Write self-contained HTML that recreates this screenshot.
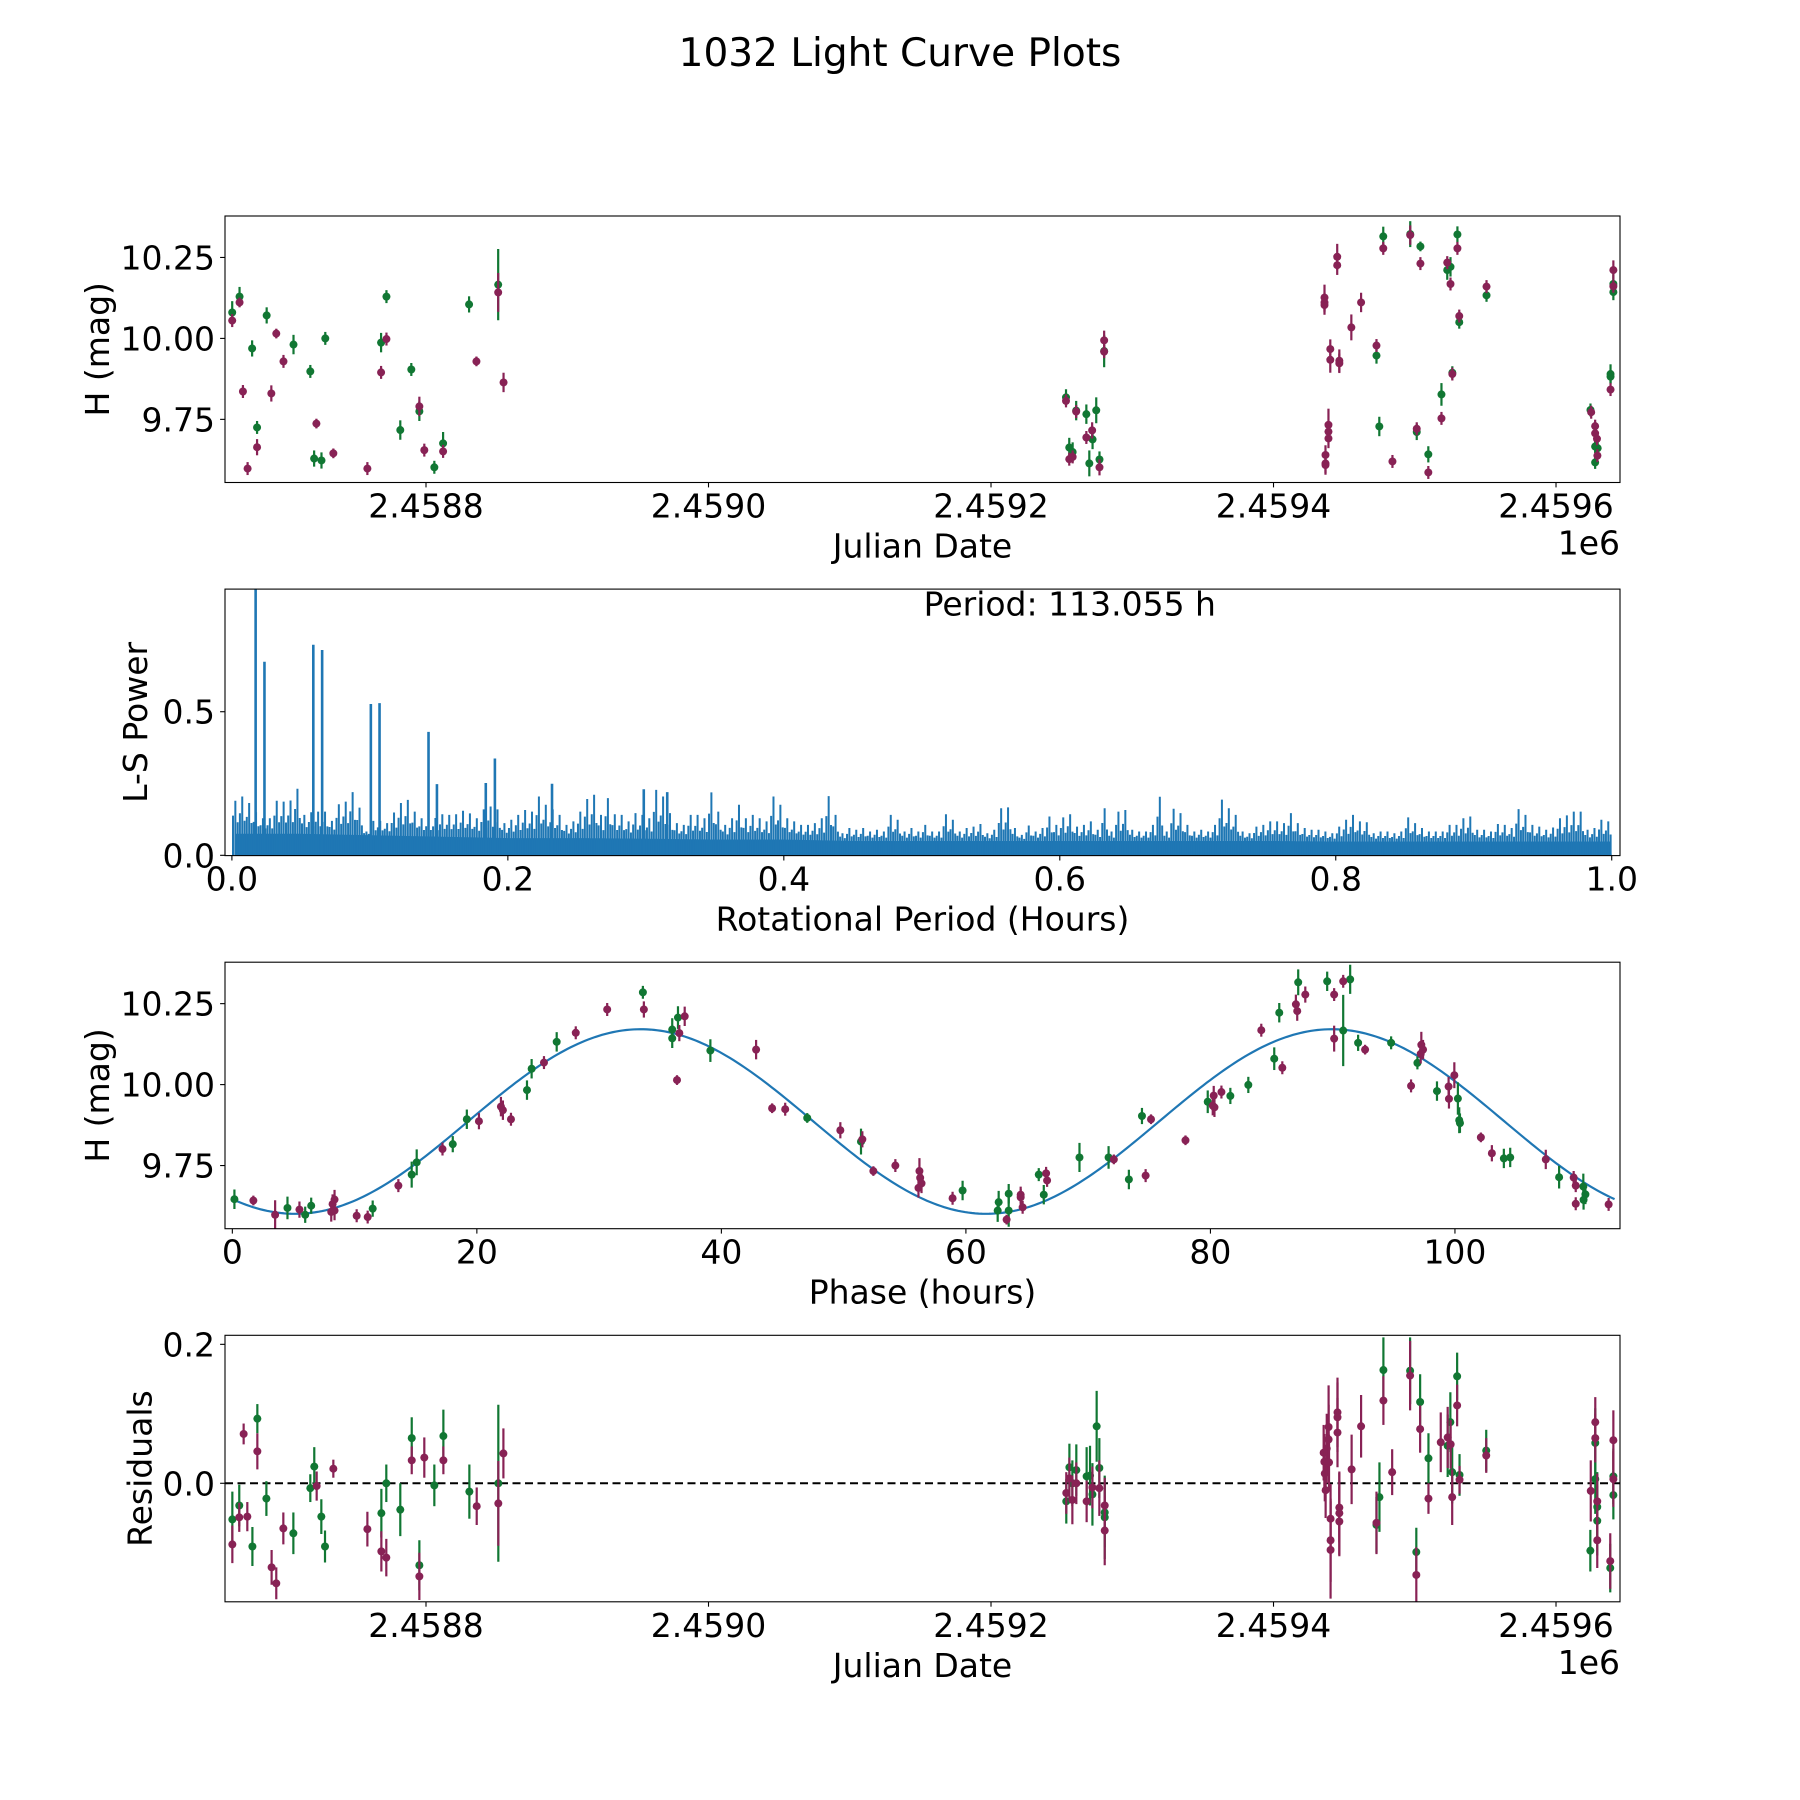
<!DOCTYPE html>
<html><head><meta charset="utf-8"><title>1032 Light Curve Plots</title>
<style>
html,body{margin:0;padding:0;background:#fff;}
svg{display:block;font-family:"DejaVu Sans","Liberation Sans",sans-serif;}
</style></head>
<body>
<svg id="fig" width="1800" height="1800" viewBox="0 0 1800 1800" xmlns="http://www.w3.org/2000/svg">
<rect x="0" y="0" width="1800" height="1800" fill="#fff"/>
<text x="900" y="66" font-size="39" text-anchor="middle">1032 Light Curve Plots</text>
</svg>
<script>
// ---------- Panel 1: light curve vs Julian Date ----------
const lcGreenJD=[2458662.8,2458668.0,2458676.9,2458680.4,2458687.2,2458706.2,2458718.1,2458720.8,2458726.0,2458728.7,2458768.2,2458772.0,2458781.8,2458789.6,2458795.3,2458805.9,2458812.1,2458830.5,2458851.1,
2459253.1,2459260.3,2459267.5,2459271.9,2459274.5,2459255.4,2459257.8,2459269.6,2459276.8,2459280.1,
2459474.9,2459472.9,2459477.7,2459496.8,2459504.0,2459501.4,2459509.6,2459518.9,2459523.0,2459525.3,2459526.6,2459530.2,2459531.5,2459550.8,2459624.4,2459627.7,2459629.5,2459627.7,2459638.6,2459638.6,2459640.6,2459640.6];
const lcGreenMag=[10.080,10.129,9.969,9.725,10.071,9.981,9.898,9.629,9.623,10.000,9.987,10.129,9.717,9.904,9.775,9.602,9.676,10.105,10.166,
9.818,9.777,9.766,9.688,9.778,9.663,9.649,9.614,9.626,9.961,
9.728,9.947,10.315,10.322,10.284,9.711,9.642,9.827,10.211,10.221,9.894,10.321,10.050,10.133,9.779,9.666,9.661,9.617,9.890,9.882,10.168,10.143];
const lcGreenErr=[0.035,0.03,0.025,0.02,0.025,0.03,0.02,0.025,0.025,0.02,0.03,0.02,0.03,0.02,0.03,0.02,0.035,0.025,0.11,
0.025,0.03,0.03,0.03,0.04,0.03,0.03,0.04,0.025,0.05,
0.03,0.025,0.03,0.04,0.015,0.025,0.025,0.035,0.03,0.03,0.02,0.025,0.02,0.02,0.02,0.02,0.02,0.02,0.03,0.02,0.03,0.025];
const lcMagentaJD=[2458662.8,2458668.0,2458670.4,2458680.4,2458673.7,2458694.0,2458690.5,2458699.1,2458722.4,2458734.4,2458758.5,2458768.2,2458772.0,2458795.3,2458798.8,2458812.1,2458835.7,2458851.1,2458854.9,
2459253.1,2459260.3,2459267.5,2459271.6,2459255.4,2459257.8,2459276.8,2459280.1,2459280.1,
2459436.1,2459436.1,2459436.1,2459445.1,2459445.1,2459440.2,2459440.2,2459446.6,2459446.6,2459455.1,2459462.0,2459438.9,2459438.9,2459438.9,2459436.8,2459436.8,2459436.8,2459472.9,2459477.7,2459484.2,2459496.8,2459504.0,2459501.4,2459509.6,2459518.9,2459523.0,2459525.3,2459526.6,2459530.2,2459531.5,2459550.8,2459624.9,2459627.7,2459627.7,2459629.0,2459629.3,2459638.6,2459640.6,2459640.6];
const lcMagentaMag=[10.055,10.111,9.836,9.664,9.598,10.015,9.830,9.929,9.737,9.645,9.598,9.895,9.998,9.790,9.655,9.651,9.929,10.142,9.864,
9.807,9.774,9.694,9.716,9.627,9.634,9.602,9.994,9.959,
10.126,10.103,10.111,10.252,10.226,9.967,9.934,9.931,9.923,10.034,10.111,9.733,9.712,9.691,9.640,9.614,9.609,9.978,10.278,9.620,10.319,10.231,9.721,9.586,9.753,10.234,10.168,9.890,10.278,10.069,10.160,9.772,9.729,9.707,9.690,9.638,9.842,10.211,10.161];
const lcMagentaErr=[0.02,0.015,0.02,0.025,0.02,0.015,0.025,0.02,0.015,0.015,0.02,0.02,0.02,0.03,0.02,0.02,0.015,0.06,0.03,
0.02,0.02,0.02,0.025,0.02,0.02,0.025,0.03,0.02,
0.04,0.03,0.03,0.04,0.03,0.03,0.04,0.035,0.03,0.04,0.03,0.05,0.03,0.03,0.03,0.03,0.03,0.02,0.02,0.02,0.03,0.02,0.02,0.02,0.02,0.02,0.02,0.02,0.02,0.02,0.02,0.02,0.02,0.02,0.02,0.02,0.02,0.03,0.02];
const jdTicks=[2458800,2459000,2459200,2459400,2459600];
const jdTickLabels=["2.4588","2.4590","2.4592","2.4594","2.4596"];
const magTicks=[9.75,10.00,10.25];
const magTickLabels=["9.75","10.00","10.25"];

// ---------- Panel 2: Lomb-Scargle periodogram ----------
const lsBinWidth=0.005;
const lsEnvelope=[.190,.205,.182,.150,.129,.129,.190,.187,.191,.232,.141,.150,.152,.152,.120,.178,.187,.220,.166,.083,
.12,.12,.112,.149,.182,.193,.152,.129,.13,.13,.143,.141,.143,.155,.146,.129,.16,.170,.16,.112,
.124,.141,.158,.152,.205,.176,.16,.141,.106,.118,.152,.196,.211,.141,.199,.143,.141,.118,.147,.141,
.129,.228,.205,.147,.112,.106,.141,.141,.129,.219,.152,.106,.129,.176,.129,.141,.129,.118,.205,.176,
.129,.118,.106,.106,.112,.129,.206,.141,.077,.095,.089,.095,.083,.089,.083,.141,.124,.083,.095,.083,
.106,.083,.083,.143,.124,.083,.095,.1,.109,.077,.089,.164,.167,.095,.071,.104,.083,.095,.135,.106,
.132,.143,.1,.106,.118,.089,.164,.083,.152,.158,.089,.083,.083,.106,.204,.083,.162,.147,.106,.083,
.089,.083,.106,.194,.164,.141,.083,.077,.1,.106,.118,.118,.112,.147,.112,.095,.089,.089,.083,.077,
.1,.124,.141,.118,.115,.077,.083,.083,.077,.083,.132,.112,.095,.083,.083,.083,.106,.106,.129,.135,
.089,.089,.083,.109,.106,.095,.161,.141,.106,.1,.089,.097,.129,.139,.152,.152,.089,.095,.124,.118];
const lsFloorStep=0.05;
const lsFloor=[.075,.075,.07,.065,.06,.06,.058,.055,.055,.05,.05,.05,.05,.05,.05,.05,.048,.048,.048,.048,.048];
const lsPeakPeriods=[0.0172,0.0236,0.059,0.0654,0.1007,0.107,0.1425,0.1486,0.184,0.1906,0.232,0.2985,0.3155];
const lsPeakPowers=[1.0,0.674,0.733,0.715,0.527,0.53,0.43,0.248,0.252,0.337,0.249,0.23,0.22];
const lsTicksX=[0,0.2,0.4,0.6,0.8,1.0];
const lsTickLabelsX=["0.0","0.2","0.4","0.6","0.8","1.0"];
const lsTicksY=[0,0.5];
const lsTickLabelsY=["0.0","0.5"];

// ---------- Panel 3: phased light curve ----------
const phGreenPhase=[0.17,4.51,5.96,6.45,11.48,14.67,15.08,18.03,19.18,24.10,24.48,26.53,33.58,35.98,35.98,36.45,39.10,
47.02,51.42,59.73,62.60,62.68,63.50,63.50,65.96,66.37,69.29,71.67,73.33,74.40,
79.78,81.63,83.10,85.22,85.63,87.18,89.55,91.43,90.86,92.08,94.78,96.93,98.53,100.24,100.35,100.41,104.0,104.52,108.52,110.50,110.67,110.52];
const phGreenMag=[9.646,9.619,9.598,9.626,9.617,9.722,9.760,9.816,9.893,9.983,10.049,10.132,10.285,10.170,10.143,10.207,10.105,
9.897,9.824,9.673,9.611,9.637,9.663,9.611,9.722,9.660,9.775,9.775,9.707,9.903,
9.947,9.965,9.999,10.080,10.222,10.316,10.319,10.325,10.167,10.129,10.129,10.067,9.980,9.957,9.890,9.881,9.772,9.775,9.714,9.685,9.661,9.644];
const phGreenErr=[0.03,0.035,0.025,0.025,0.025,0.04,0.04,0.025,0.03,0.03,0.03,0.03,0.02,0.035,0.03,0.035,0.035,
0.015,0.04,0.03,0.035,0.035,0.03,0.05,0.02,0.03,0.045,0.035,0.03,0.025,
0.035,0.025,0.025,0.035,0.03,0.04,0.03,0.045,0.11,0.025,0.02,0.02,0.03,0.05,0.04,0.03,0.03,0.03,0.035,0.04,0.03,0.03];
const phMagentaPhase=[1.72,3.50,5.49,8.09,8.20,8.36,8.36,10.17,11.07,13.58,17.19,20.17,21.97,22.13,22.79,25.49,28.09,30.66,33.66,36.56,37.0,36.37,
42.84,44.15,45.22,49.73,51.53,52.43,54.23,56.20,56.26,56.37,56.12,58.91,63.33,64.48,64.48,64.64,66.56,66.64,72.10,74.70,75.14,
77.96,80.27,80.33,80.19,80.90,84.16,85.88,86.99,87.10,87.76,90.12,90.86,90.12,92.65,96.41,97.25,97.39,97.20,99.48,99.51,99.95,102.12,103.02,107.43,109.71,109.88,109.88,112.57];
const phMagentaMag=[9.642,9.598,9.614,9.607,9.631,9.645,9.611,9.595,9.591,9.688,9.801,9.887,9.932,9.921,9.893,10.068,10.160,10.232,10.232,10.159,10.211,10.014,
10.108,9.927,9.924,9.859,9.831,9.733,9.750,9.733,9.712,9.695,9.681,9.649,9.583,9.660,9.652,9.621,9.726,9.704,9.769,9.719,9.893,
9.828,9.966,9.930,9.935,9.977,10.168,10.052,10.248,10.227,10.278,10.278,10.319,10.142,10.108,9.996,10.123,10.108,10.095,9.994,9.956,10.029,9.837,9.788,9.769,9.713,9.688,9.632,9.630];
const phMagentaErr=[0.015,0.045,0.025,0.03,0.03,0.03,0.03,0.02,0.02,0.02,0.02,0.025,0.03,0.03,0.02,0.02,0.02,0.02,0.025,0.025,0.03,0.015,
0.03,0.015,0.02,0.025,0.025,0.015,0.02,0.04,0.03,0.03,0.03,0.02,0.015,0.025,0.025,0.02,0.02,0.02,0.015,0.02,0.015,
0.015,0.03,0.03,0.03,0.02,0.02,0.02,0.03,0.03,0.025,0.02,0.02,0.04,0.015,0.02,0.04,0.03,0.03,0.03,0.03,0.04,0.015,0.025,0.03,0.02,0.02,0.02,0.02];
const fitPeriod=[113.055];
const fitParams=[9.886,0.285,33.4]; // mean, amplitude, phase of maximum (2 cycles per period)
const phaseTicks=[0,20,40,60,80,100];
const phaseTickLabels=["0","20","40","60","80","100"];

// ---------- Panel 4: residuals ----------
const resGreenJD=[2458662.9,2458667.8,2458677.1,2458680.6,2458687.0,2458706.1,2458718.1,2458720.9,2458725.9,2458728.5,2458768.4,2458771.9,2458781.8,2458789.9,2458795.3,2458805.9,2458812.3,2458830.7,2458851.2,
2459253.3,2459255.5,2459257.6,2459260.4,2459267.7,2459270.1,2459271.8,2459274.8,2459276.7,2459280.5,2459280.5,
2459472.9,2459475.0,2459477.8,2459496.7,2459501.1,2459503.8,2459509.7,2459523.3,2459525.2,2459526.5,2459530.0,2459531.7,2459550.6,2459624.3,2459627.8,2459627.8,2459629.2,2459629.2,2459638.4,2459640.6,2459640.6];
const resGreenVal=[-0.052,-0.032,-0.091,0.093,-0.022,-0.072,-0.007,0.024,-0.048,-0.091,-0.043,0.000,-0.038,0.065,-0.118,-0.003,0.068,-0.012,0.000,
-0.026,0.023,0.000,0.019,0.010,0.011,-0.016,0.082,0.022,-0.042,-0.049,
-0.060,-0.020,0.163,0.162,-0.099,0.117,0.036,0.054,0.088,0.016,0.154,0.012,0.047,-0.097,0.058,0.006,-0.034,-0.054,-0.122,0.010,-0.017];
const resGreenErr=[0.04,0.03,0.028,0.021,0.025,0.03,0.02,0.028,0.025,0.023,0.035,0.027,0.038,0.03,0.036,0.03,0.038,0.039,0.113,
0.032,0.034,0.033,0.037,0.042,0.043,0.045,0.051,0.043,0.05,0.06,
0.04,0.05,0.047,0.048,0.035,0.04,0.036,0.045,0.043,0.045,0.034,0.03,0.03,0.03,0.05,0.05,0.05,0.05,0.035,0.04,0.035];
const resMagentaJD=[2458662.9,2458667.8,2458670.9,2458673.5,2458680.6,2458690.7,2458694.0,2458699.0,2458722.6,2458734.4,2458758.5,2458768.4,2458771.9,2458789.9,2458798.8,2458795.3,2458812.3,2458835.9,2458851.2,2458854.8,
2459253.3,2459255.5,2459257.6,2459260.4,2459267.7,2459271.8,2459276.7,2459280.5,2459280.5,
2459435.5,2459436.0,2459436.3,2459436.9,2459437.7,2459439.0,2459439.0,2459439.3,2459440.4,2459440.4,2459440.4,2459445.3,2459445.3,2459445.3,2459446.6,2459446.6,2459446.6,2459455.3,2459462.0,2459472.9,2459477.8,2459484.0,2459496.7,2459501.1,2459503.8,2459509.7,2459518.4,2459523.3,2459525.4,2459526.5,2459530.0,2459531.7,2459550.6,2459624.6,2459627.8,2459627.8,2459629.2,2459629.2,2459638.4,2459640.6,2459640.6];
const resMagentaVal=[-0.088,-0.049,0.071,-0.048,0.046,-0.121,-0.144,-0.065,-0.004,0.021,-0.066,-0.098,-0.107,0.033,0.037,-0.134,0.033,-0.033,-0.029,0.043,
-0.014,0.007,-0.024,0.000,-0.026,-0.006,-0.007,-0.032,-0.068,
0.044,0.031,0.014,-0.010,0.050,0.081,0.063,0.030,-0.051,-0.082,-0.096,0.102,0.095,0.073,-0.035,-0.043,-0.055,0.020,0.082,-0.057,0.119,0.016,0.155,-0.132,0.078,-0.022,0.059,0.066,0.056,-0.020,0.112,0.005,0.040,-0.011,0.088,0.065,-0.026,-0.082,-0.112,0.006,0.062];
const resMagentaErr=[0.027,0.021,0.015,0.021,0.026,0.025,0.023,0.023,0.021,0.013,0.025,0.029,0.027,0.02,0.029,0.034,0.02,0.027,0.061,0.036,
0.03,0.03,0.035,0.03,0.03,0.03,0.04,0.04,0.05,
0.04,0.04,0.04,0.04,0.05,0.06,0.05,0.04,0.05,0.06,0.07,0.05,0.05,0.05,0.05,0.06,0.05,0.05,0.045,0.045,0.035,0.033,0.05,0.04,0.034,0.022,0.043,0.044,0.035,0.04,0.03,0.02,0.025,0.044,0.036,0.035,0.04,0.04,0.04,0.04,0.043];
const resTicks=[0.0,0.2];
const resTickLabels=["0.0","0.2"];

// ---------- layout ----------
const NS="http://www.w3.org/2000/svg";
const svg=document.getElementById('fig');
const L=225,R=1620,H=266.5;
const TOPS=[216,589.1,962.2,1335.3];
const GREEN='#117733',MAG='#882255',BLUE='#1f77b4';
function mk(tag,attrs,parent){const e=document.createElementNS(NS,tag);for(const k in attrs)e.setAttribute(k,attrs[k]);(parent||svg).appendChild(e);return e;}
function lin(d0,d1,r0,r1){return v=>r0+(v-d0)*(r1-r0)/(d1-d0);}

function makeAxes(i,xlim,ylim,name){
  const top=TOPS[i],bot=top+H;
  const g=mk('g',{});
  
  
  const cp=mk('clipPath',{id:'clip'+i},g);
  mk('rect',{x:L,y:top,width:R-L,height:H},cp);
  const plot=mk('g',{'clip-path':'url(#clip'+i+')'},g);
  
  
  return {g,plot,top,bot,x:lin(xlim[0],xlim[1],L,R),y:lin(ylim[0],ylim[1],bot,top)};
}
function frame(ax,name){
  const r=mk('rect',{x:L,y:ax.top,width:R-L,height:H,fill:'none',stroke:'#000','stroke-width':1.1},ax.g);
  
  
}
function xticks(ax,vals,labels,name){
  vals.forEach((v,k)=>{
    const px=ax.x(v);
    const t=mk('line',{x1:px,x2:px,y1:ax.bot,y2:ax.bot+4.9,stroke:'#000','stroke-width':1.1},ax.g);
    
    
    const tx=mk('text',{x:px,y:ax.bot+35,'font-size':33,'text-anchor':'middle'},ax.g);
    tx.textContent=labels[k];
    
    
  });
}
function yticks(ax,vals,labels,name){
  vals.forEach((v,k)=>{
    const py=ax.y(v);
    const t=mk('line',{x1:L-4.9,x2:L,y1:py,y2:py,stroke:'#000','stroke-width':1.1},ax.g);
    
    
    const tx=mk('text',{x:L-10,y:py+12,'font-size':33,'text-anchor':'end'},ax.g);
    tx.textContent=labels[k];
    
    
  });
}
function xlabel(ax,text,name){
  const t=mk('text',{x:(L+R)/2,y:ax.bot+75,'font-size':33,'text-anchor':'middle'},ax.g);
  t.textContent=text;
  
  
}
function ylabel(ax,text,cx,name){
  const cy=ax.top+H/2;
  const t=mk('text',{x:cx,y:cy,'font-size':33,'text-anchor':'middle','dominant-baseline':'central',transform:'rotate(-90 '+cx+' '+cy+')'},ax.g);
  t.textContent=text;
  
  
}
function offsetText(ax,name){
  const t=mk('text',{x:R,y:ax.bot+72,'font-size':33,'text-anchor':'end'},ax.g);
  t.textContent='1e6';
  
  
}
function errPoints(ax,xs,ys,es,color,name){
  const g=mk('g',{},ax.plot);
  
  
  xs.forEach((xv,k)=>{
    const px=ax.x(xv),py=ax.y(ys[k]);
    const ln=mk('line',{x1:px,x2:px,y1:ax.y(ys[k]-es[k]),y2:ax.y(ys[k]+es[k]),stroke:color,'stroke-width':2.2},g);
    
    
    const c=mk('circle',{cx:px,cy:py,r:4,fill:color},g);
    
    
  });
}

// Panel 1
const JDLIM=[2458657.7,2459645.3], MAGLIM=[9.555,10.378];
const a1=makeAxes(0,JDLIM,MAGLIM,'light-curve-panel');
errPoints(a1,lcGreenJD,lcGreenMag,lcGreenErr,GREEN,'lc-green-series');
errPoints(a1,lcMagentaJD,lcMagentaMag,lcMagentaErr,MAG,'lc-magenta-series');
frame(a1,'light-curve');
xticks(a1,jdTicks,jdTickLabels,'light-curve');
yticks(a1,magTicks,magTickLabels,'light-curve');
xlabel(a1,'Julian Date','light-curve-x-axis-title');
ylabel(a1,'H (mag)',97.6,'light-curve-y-axis-title');
offsetText(a1,'light-curve-offset-text');

// Panel 2
const a2=makeAxes(1,[-0.005,1.006],[-0.001,0.927],'periodogram-panel');
(function(){
  const g=mk('g',{},a2.plot);
  
  
  const floorAt=p=>{const f=p/lsFloorStep;const i=Math.min(Math.floor(f),lsFloor.length-2);const t=f-i;return lsFloor[i]*(1-t)+lsFloor[i+1]*t;};
  let pts=[[a2.x(0.002),a2.y(0)]];
  for(let p=0.002;p<=1.0;p+=0.001){pts.push([a2.x(p),a2.y(floorAt(p))]);}
  pts.push([a2.x(1.0),a2.y(0)]);
  const poly=mk('polygon',{points:pts.map(q=>q.join(',')).join(' '),fill:BLUE},g);
  
  
  lsEnvelope.forEach((v,i)=>{
    const c=(i+0.5)*lsBinWidth, f=floorAt(c);
    const subs=[[0,1],[-0.0017,0.55],[0.0017,0.35]];
    subs.forEach(s=>{
      const px=a2.x(c+s[0]);
      const h=f+(v-f)*s[1];
      const ln=mk('line',{x1:px,x2:px,y1:a2.y(0),y2:a2.y(h),stroke:BLUE,'stroke-width':2},g);
      
      
    });
  });
  lsPeakPeriods.forEach((p,k)=>{
    const px=a2.x(p);
    const ln=mk('line',{x1:px,x2:px,y1:a2.y(0),y2:a2.y(lsPeakPowers[k]),stroke:BLUE,'stroke-width':2.6},g);
    
    
  });
})();
frame(a2,'periodogram');
xticks(a2,lsTicksX,lsTickLabelsX,'periodogram');
yticks(a2,lsTicksY,lsTickLabelsY,'periodogram');
xlabel(a2,'Rotational Period (Hours)','periodogram-x-axis-title');
ylabel(a2,'L-S Power',135.5,'periodogram-y-axis-title');
(function(){
  const t=mk('text',{x:923.6,y:615.7,'font-size':33},a2.g);
  t.textContent='Period: 113.055 h';
  
  
})();

// Panel 3
const a3=makeAxes(2,[-0.6,113.5],MAGLIM,'phase-panel');
(function(){
  const P=fitPeriod[0];
  let d='';
  for(let k=0;k<=400;k++){
    const ph=P*k/400;
    const m=fitParams[0]+fitParams[1]*Math.cos(4*Math.PI*(ph-fitParams[2])/P);
    d+=(k?'L':'M')+a3.x(ph).toFixed(2)+','+a3.y(m).toFixed(2);
  }
  const p=mk('path',{d:d,fill:'none',stroke:BLUE,'stroke-width':2.2},a3.plot);
  
  
})();
errPoints(a3,phGreenPhase,phGreenMag,phGreenErr,GREEN,'phase-green-series');
errPoints(a3,phMagentaPhase,phMagentaMag,phMagentaErr,MAG,'phase-magenta-series');
frame(a3,'phase');
xticks(a3,phaseTicks,phaseTickLabels,'phase');
yticks(a3,magTicks,magTickLabels,'phase');
xlabel(a3,'Phase (hours)','phase-x-axis-title');
ylabel(a3,'H (mag)',97.6,'phase-y-axis-title');

// Panel 4
const a4=makeAxes(3,JDLIM,[-0.1706,0.213],'residuals-panel');
(function(){
  const ln=mk('line',{x1:L,x2:R,y1:a4.y(0),y2:a4.y(0),stroke:'#000','stroke-width':2,'stroke-dasharray':'8,4.5'},a4.plot);
  
  
})();
errPoints(a4,resGreenJD,resGreenVal,resGreenErr,GREEN,'res-green-series');
errPoints(a4,resMagentaJD,resMagentaVal,resMagentaErr,MAG,'res-magenta-series');
frame(a4,'residuals');
xticks(a4,jdTicks,jdTickLabels,'residuals');
yticks(a4,resTicks,resTickLabels,'residuals');
xlabel(a4,'Julian Date','residuals-x-axis-title');
ylabel(a4,'Residuals',140,'residuals-y-axis-title');
offsetText(a4,'residuals-offset-text');
</script>
</body></html>
